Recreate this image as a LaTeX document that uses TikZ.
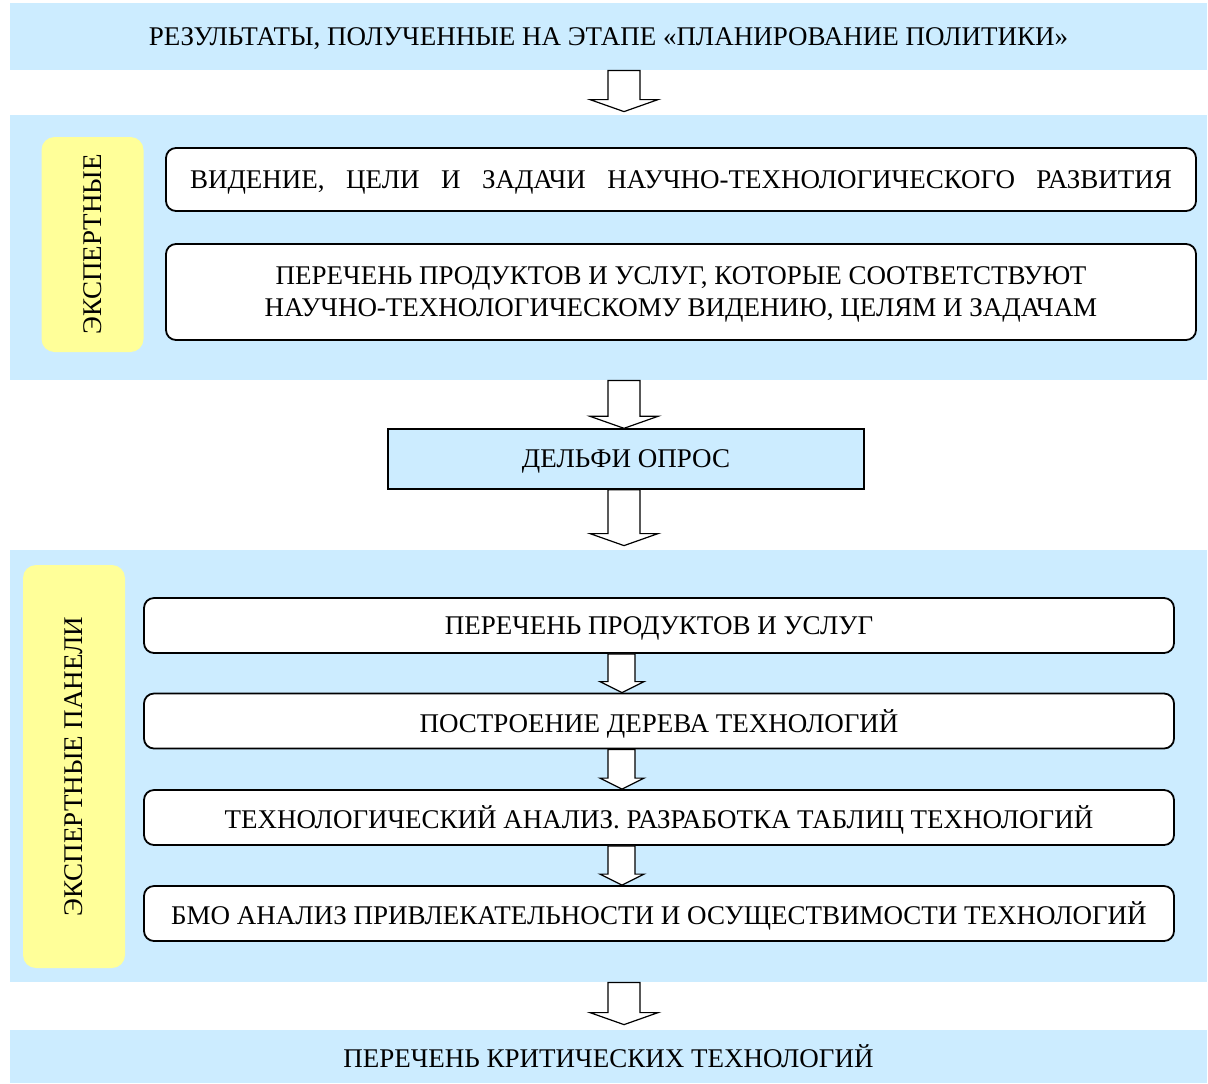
\documentclass[tikz,border=0pt]{standalone}
\usepackage{fontspec}
\setmainfont{Liberation Serif}
\usetikzlibrary{calc}
\definecolor{panelblue}{HTML}{CCECFF}
\definecolor{tagyellow}{HTML}{FFFF99}
\tikzset{
  bar/.style={fill=panelblue, minimum width=598.5pt, inner sep=0pt, text depth=0pt, font=\fontsize{13.5}{16}\selectfont},
  panel/.style={fill=panelblue, minimum width=598.5pt, inner sep=0pt},
  tag/.style={fill=tagyellow, rounded corners=6.5pt, inner sep=0pt, minimum width=51pt, font=\fontsize{13.5}{16}\selectfont},
  stepbox/.style={draw=black, fill=white, line width=0.9pt, rounded corners=5pt, minimum width=515pt, inner sep=0pt, align=center, text depth=0pt, font=\fontsize{13.5}{16}\selectfont},
  delphi/.style={draw=black, fill=panelblue, line width=0.7pt, minimum width=238pt, minimum height=30pt, inner sep=0pt, text depth=0pt, font=\fontsize{13.5}{16}\selectfont},
}
% hollow block arrow from one node to the next
\newcommand{\bigarrow}[3][0pt]{%
  \draw[fill=white, line width=0.6pt] let \p1=(#2.south), \p2=($(#3.north)+(0,#1)$) in
    (304pt,\y1) -- (304pt,\y2+6pt) -- (295pt,\y2+6pt) -- (312pt,\y2) -- (329pt,\y2+6pt)
    -- (320pt,\y2+6pt) -- (320pt,\y1) -- cycle;}
\newcommand{\smallarrow}[2]{%
  \draw[fill=white, line width=0.6pt] let \p1=(#1.south), \p2=(#2.north) in
    (304pt,\y1) -- (304pt,\y2+5.5pt) -- (300pt,\y2+5.5pt) -- (311pt,\y2) -- (322pt,\y2+5.5pt)
    -- (317.5pt,\y2+5.5pt) -- (317.5pt,\y1) -- cycle;}
\begin{document}
\begin{tikzpicture}[x=0.5pt, y=-0.5pt]
  \useasboundingbox (0,0) rectangle (1208,1083);
  % input bar
  \node (results) [bar, minimum height=33.5pt] at (608.5,36.5) {РЕЗУЛЬТАТЫ, ПОЛУЧЕННЫЕ НА ЭТАПЕ «ПЛАНИРОВАНИЕ ПОЛИТИКИ»};
  % expert block
  \node (expertpanel) [panel, minimum height=132.5pt] at (608.5,247.5) {};
  \node (experttag) [tag, minimum height=107.5pt] at (92.5,244.5) {};
  \node [rotate=90, font=\fontsize{13.5}{16}\selectfont] at (experttag) {ЭКСПЕРТНЫЕ};
  \node (vision) [stepbox, minimum height=31.5pt] at (681,179.5) {\makebox[491pt][s]{ВИДЕНИЕ, ЦЕЛИ И ЗАДАЧИ НАУЧНО-ТЕХНОЛОГИЧЕСКОГО РАЗВИТИЯ}};
  \node (products) [stepbox, minimum height=48pt] at (681,292) {ПЕРЕЧЕНЬ ПРОДУКТОВ И УСЛУГ, КОТОРЫЕ СООТВЕТСТВУЮТ\\НАУЧНО-ТЕХНОЛОГИЧЕСКОМУ ВИДЕНИЮ, ЦЕЛЯМ И ЗАДАЧАМ};
  % delphi
  \node (survey) [delphi] at (626,459) {ДЕЛЬФИ ОПРОС};
  % panels block
  \node (panelblock) [panel, minimum height=216pt] at (608.5,766) {};
  \node (paneltag) [tag, minimum height=201.5pt] at (74,766.5) {};
  \node [rotate=90, font=\fontsize{13.5}{16}\selectfont] at (paneltag) {ЭКСПЕРТНЫЕ ПАНЕЛИ};
  \node (list) [stepbox, minimum height=27.5pt] at (659,625.5) {ПЕРЕЧЕНЬ ПРОДУКТОВ И УСЛУГ};
  \node (tree) [stepbox, minimum height=27.5pt] at (659,721) {ПОСТРОЕНИЕ ДЕРЕВА ТЕХНОЛОГИЙ};
  \node (analysis) [stepbox, minimum height=27.5pt] at (659,817.5) {ТЕХНОЛОГИЧЕСКИЙ АНАЛИЗ. РАЗРАБОТКА ТАБЛИЦ ТЕХНОЛОГИЙ};
  \node (bmo) [stepbox, minimum height=27.5pt] at (659,913.5) {БМО АНАЛИЗ ПРИВЛЕКАТЕЛЬНОСТИ И ОСУЩЕСТВИМОСТИ ТЕХНОЛОГИЙ};
  % output bar
  \node (critical) [bar, minimum height=26.5pt] at (608.5,1056.5) {ПЕРЕЧЕНЬ КРИТИЧЕСКИХ ТЕХНОЛОГИЙ};

  \bigarrow[1.5pt]{results}{expertpanel}
  \bigarrow{expertpanel}{survey}
  \bigarrow[2pt]{survey}{panelblock}
  \smallarrow{list}{tree}
  \smallarrow{tree}{analysis}
  \smallarrow{analysis}{bmo}
  \bigarrow[2.5pt]{panelblock}{critical}
\end{tikzpicture}
\end{document}
